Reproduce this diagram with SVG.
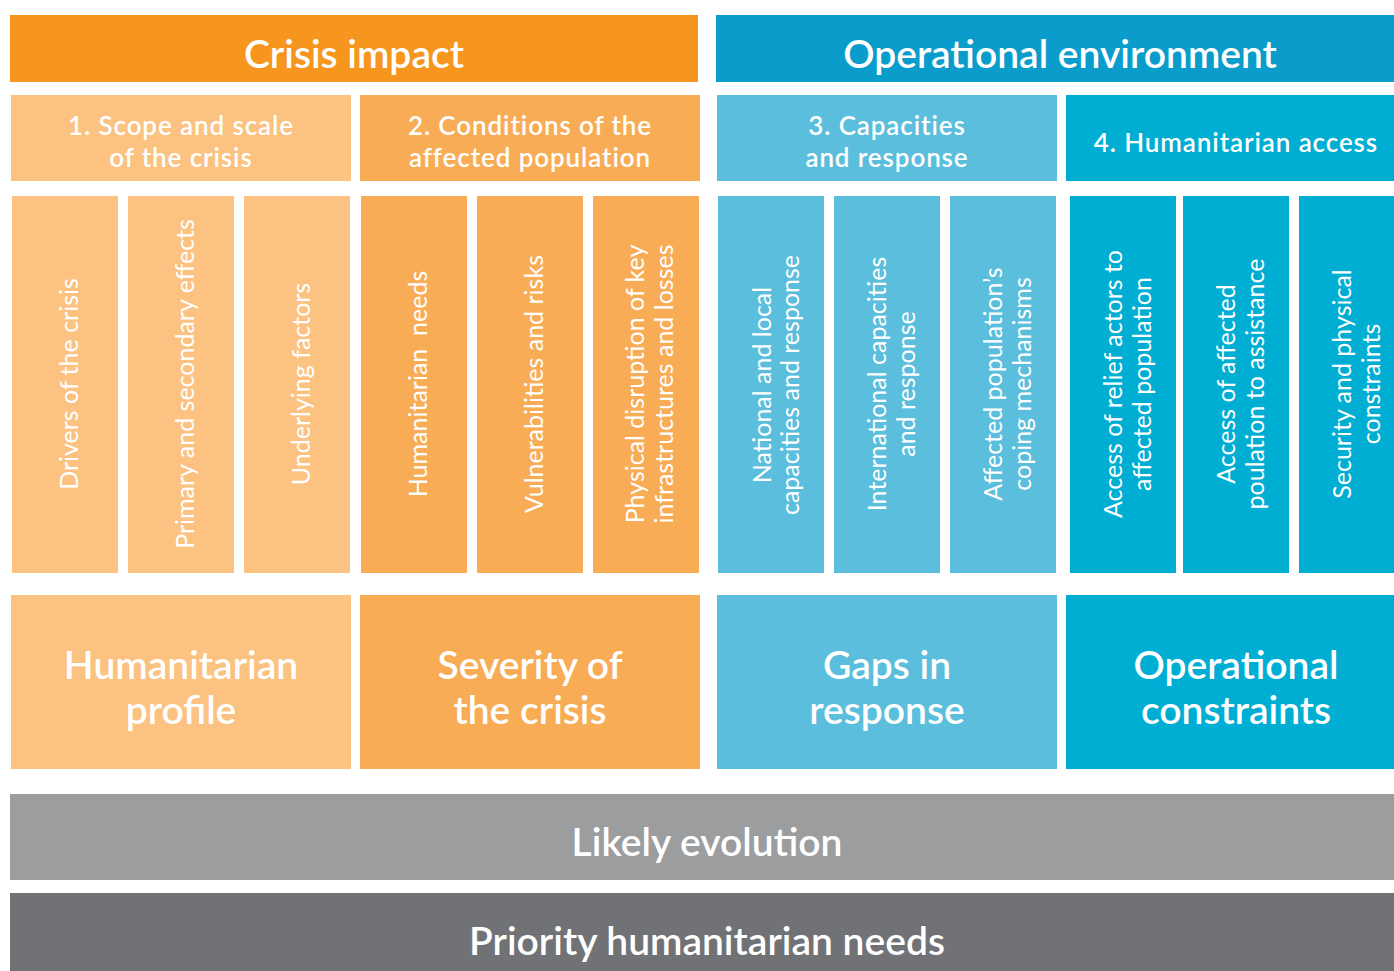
<svg xmlns="http://www.w3.org/2000/svg" width="1394" height="971" viewBox="0 0 1394 971">
<style>
.t{font-family:Lato,"Noto Sans",sans-serif;fill:#fff;text-anchor:middle}
.h{font-size:39px;font-weight:600}
.s{font-size:26px;font-weight:600;letter-spacing:0.9px}
.c{font-size:25px;font-weight:400}
.b{font-size:39px;font-weight:600}
.o1{fill:#F6961F}.o2{fill:#FCC281}.o3{fill:#F9AC56}
.b1{fill:#0A9DCB}.b2{fill:#5BBEDC}.b3{fill:#00AED3}
.g1{fill:#9C9D9F}.g2{fill:#717276}
</style>
<rect width="1394" height="971" fill="#fff"/>
<g id="header-crisis-impact"><rect class="o1" x="10" y="15" width="688" height="67"/><text class="t h" x="354" y="68">Crisis impact</text></g>
<g id="header-operational-environment"><rect class="b1" x="716" y="15" width="690" height="67"/><text class="t h" x="1060" y="68">Operational environment</text></g>

<g id="sub-scope"><rect class="o2" x="11" y="95" width="340" height="86"/><text class="t s" x="181" y="135">1. Scope and scale<tspan x="181" y="167">of the crisis</tspan></text></g>
<g id="sub-conditions"><rect class="o3" x="360" y="95" width="340" height="86"/><text class="t s" x="530" y="135">2. Conditions of the<tspan x="530" y="167">affected population</tspan></text></g>
<g id="sub-capacities"><rect class="b2" x="717" y="95" width="340" height="86"/><text class="t s" x="887" y="135">3. Capacities<tspan x="887" y="167">and response</tspan></text></g>
<g id="sub-access"><rect class="b3" x="1066" y="95" width="340" height="86"/><text class="t s" x="1236" y="152">4. Humanitarian access</text></g>

<g id="col-drivers"><rect class="o2" x="12" y="196" width="106" height="377"/><text class="t c" transform="translate(78,384) rotate(-90)">Drivers of the crisis</text></g>
<g id="col-effects"><rect class="o2" x="128" y="196" width="106" height="377"/><text class="t c" transform="translate(194,384) rotate(-90)">Primary and secondary effects</text></g>
<g id="col-underlying"><rect class="o2" x="244" y="196" width="106" height="377"/><text class="t c" transform="translate(310,384) rotate(-90)">Underlying factors</text></g>
<g id="col-needs"><rect class="o3" x="361" y="196" width="106" height="377"/><text class="t c" transform="translate(427,384) rotate(-90)" xml:space="preserve">Humanitarian  needs</text></g>
<g id="col-vulnerabilities"><rect class="o3" x="477" y="196" width="106" height="377"/><text class="t c" transform="translate(543,384) rotate(-90)">Vulnerabilities and risks</text></g>
<g id="col-physical"><rect class="o3" x="593" y="196" width="106" height="377"/><text class="t c" transform="translate(644,384) rotate(-90)">Physical disruption of key<tspan x="0" y="29">infrastructures and losses</tspan></text></g>
<g id="col-national"><rect class="b2" x="718" y="196" width="106" height="377"/><text class="t c" transform="translate(771,385) rotate(-90)">National and local<tspan x="0" y="28">capacities and response</tspan></text></g>
<g id="col-international"><rect class="b2" x="834" y="196" width="106" height="377"/><text class="t c" transform="translate(886,384) rotate(-90)">International capacities<tspan x="0" y="29">and response</tspan></text></g>
<g id="col-coping"><rect class="b2" x="950" y="196" width="106" height="377"/><text class="t c" transform="translate(1002,384) rotate(-90)">Affected population’s<tspan x="0" y="29">coping mechanisms</tspan></text></g>
<g id="col-relief-access"><rect class="b3" x="1070" y="196" width="106" height="377"/><text class="t c" transform="translate(1122,384) rotate(-90)">Access of relief actors to<tspan x="0" y="29">affected population</tspan></text></g>
<g id="col-population-access"><rect class="b3" x="1183" y="196" width="106" height="377"/><text class="t c" transform="translate(1235,384) rotate(-90)">Access of affected<tspan x="0" y="29">poulation to assistance</tspan></text></g>
<g id="col-security"><rect class="b3" x="1299" y="196" width="106" height="377"/><text class="t c" transform="translate(1351,384) rotate(-90)">Security and physical<tspan x="0" y="29">constraints</tspan></text></g>

<g id="out-profile"><rect class="o2" x="11" y="595" width="340" height="174"/><text class="t b" x="181" y="679">Humanitarian<tspan x="181" y="724">profile</tspan></text></g>
<g id="out-severity"><rect class="o3" x="360" y="595" width="340" height="174"/><text class="t b" x="530" y="679">Severity of<tspan x="530" y="724">the crisis</tspan></text></g>
<g id="out-gaps"><rect class="b2" x="717" y="595" width="340" height="174"/><text class="t b" x="887" y="679">Gaps in<tspan x="887" y="724">response</tspan></text></g>
<g id="out-constraints"><rect class="b3" x="1066" y="595" width="340" height="174"/><text class="t b" x="1236" y="679">Operational<tspan x="1236" y="724">constraints</tspan></text></g>

<g id="band-evolution"><rect class="g1" x="10" y="794" width="1396" height="86"/><text class="t b" x="707" y="856">Likely evolution</text></g>
<g id="band-priority"><rect class="g2" x="10" y="893" width="1396" height="90"/><text class="t b" x="707" y="955">Priority humanitarian needs</text></g>
</svg>
